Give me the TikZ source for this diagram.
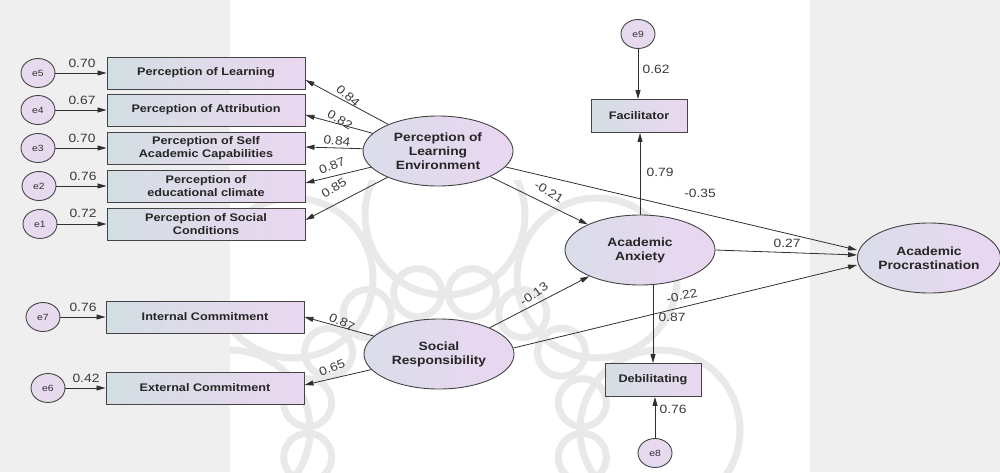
\documentclass[tikz,border=0pt]{standalone}
\usepackage{fontspec}
\setmainfont{Liberation Sans}
\newfontfamily\lbl[FakeStretch=1.15]{Liberation Sans}
\usetikzlibrary{arrows.meta,shapes.geometric,calc}
\definecolor{lineC}{HTML}{303030}
\definecolor{edgeC}{HTML}{444444}
\definecolor{boxL}{HTML}{D3DEE3}
\definecolor{boxR}{HTML}{EAD7F0}
\definecolor{ellL}{HTML}{DADDEA}
\definecolor{ellR}{HTML}{EAD6F1}
\definecolor{errC}{HTML}{E7DAEF}
\definecolor{panel}{HTML}{EFEFEF}
\definecolor{numC}{HTML}{3A3A3A}
\definecolor{wmark}{HTML}{E9E9E9}
\begin{document}
\begin{tikzpicture}[x=1pt,y=-1pt,
  box/.style={draw=edgeC, line width=0.9pt, left color=boxL, right color=boxR,
    minimum width=198pt, minimum height=32pt, inner sep=0pt, align=center,
    font=\lbl\bfseries\fontsize{11}{13}\selectfont, text=black!85},
  sbox/.style={box, minimum width=96pt, minimum height=33pt},
  lat/.style={ellipse, draw=edgeC, line width=0.9pt, left color=ellL, right color=ellR,
    minimum width=150pt, minimum height=70pt, inner sep=0pt, align=center,
    font=\lbl\bfseries\fontsize{12}{14}\selectfont, text=black!85},
  err/.style={ellipse, draw=edgeC, line width=0.9pt, fill=errC, minimum width=34pt,
    minimum height=29pt, inner sep=0pt, font=\lbl\fontsize{9}{10}\selectfont, text=black!80},
  arr/.style={draw=lineC, line width=0.8pt, -{Triangle[length=9pt,width=5pt]}},
  num/.style={font=\lbl\fontsize{12}{12}\selectfont, text=numC, inner sep=0pt},
  orn/.style={draw=wmark, line width=7pt}
]
\useasboundingbox (0,0) rectangle (1000,472);
\fill[panel] (0,0) rectangle (230,472);
\fill[panel] (810,0) rectangle (1000,472);

% faint ornamental watermark
\begin{scope}
\clip (230,180) rectangle (810,472);
\coordinate (wc) at (445,430);
\foreach \a in {11.25,33.75,...,348.75}
  \draw[orn] ($(wc)+(\a:140)$) circle[radius=24];
\foreach \a in {0,45,...,315}
  \draw[orn] ($(wc)+(\a:215)$) circle[radius=80];
\end{scope}

% measurement boxes
\node[box] (b1) at (206,73) {Perception of Learning};
\node[box] (b2) at (206,110) {Perception of Attribution};
\node[box] (b3) at (206,148) {Perception of Self\\Academic Capabilities};
\node[box] (b4) at (206,186) {Perception of\\educational climate};
\node[box] (b5) at (206,224) {Perception of Social\\Conditions};
\node[box] (ic) at (205,317) {Internal Commitment};
\node[box] (ec) at (205,388) {External Commitment};

% error terms
\node[err] (e5) at (38,73) {e5};
\node[err] (e4) at (38,110) {e4};
\node[err] (e3) at (38,148) {e3};
\node[err] (e2) at (39,186) {e2};
\node[err] (e1) at (40,224) {e1};
\node[err] (e7) at (43,317) {e7};
\node[err] (e6) at (48,388) {e6};
\node[err] (e9) at (638,34) {e9};
\node[err] (e8) at (655,453) {e8};

% latent variables
\node[lat] (ple) at (438,151) {Perception of\\Learning\\Environment};
\node[lat] (aa) at (640,250) {Academic\\Anxiety};
\node[lat, minimum width=142pt] (ap) at (929,258) {Academic\\Procrastination};
\node[lat] (sr) at (439,354) {Social\\Responsibility};

\node[sbox] (fac) at (639,116) {Facilitator};
\node[sbox] (deb) at (653,380) {Debilitating};

% error arrows
\draw[arr] (e5) -- (b1);
\draw[arr] (e4) -- (b2);
\draw[arr] (e3) -- (b3);
\draw[arr] (e2) -- (b4);
\draw[arr] (e1) -- (b5);
\draw[arr] (e7) -- (ic);
\draw[arr] (e6) -- (ec);
\draw[arr] (e9) -- (e9 |- fac.north);
\draw[arr] (e8) -- (e8 |- deb.south);

\node[num] (n1) at (82,63) {0.70};
\node[num] (n2) at (82,100) {0.67};
\node[num] (n3) at (82,138) {0.70};
\node[num] (n4) at (83,176) {0.76};
\node[num] (n5) at (83,213) {0.72};
\node[num] (n6) at (83,307) {0.76};
\node[num] (n7) at (86,378) {0.42};
\node[num] (n8) at (656,69) {0.62};
\node[num] (n9) at (673,409) {0.76};

% loadings
\draw[arr] (ple) -- ($(b1.east)+(0,7)$);
\draw[arr] (ple) -- ($(b2.east)+(0,5)$);
\draw[arr] (ple) -- ($(b3.east)+(0,-1)$);
\draw[arr] (ple) -- ($(b4.east)+(0,-3)$);
\draw[arr] (ple) -- ($(b5.east)+(0,-4)$);
\draw[arr] (sr) -- (ic.east);
\draw[arr] (sr) -- ($(ec.east)+(0,-3)$);

\node[num, rotate=-42] (l1) at (348,96) {0.84};
\node[num, rotate=-30] (l2) at (340,120) {0.82};
\node[num, rotate=-8] (l3) at (337,141) {0.84};
\node[num, rotate=22] (l4) at (332,166) {0.87};
\node[num, rotate=33] (l5) at (334,188) {0.85};
\node[num, rotate=-25] (l6) at (342,322) {0.87};
\node[num, rotate=22] (l7) at (332,368) {0.65};

% structural paths
\draw[arr] (ple) -- (aa);
\draw[arr] (ple) -- ($(ap.west)+(0,-8)$);
\draw[arr] (aa.north) -- (aa.north |- fac.south);
\draw[arr] (aa.east) -- ($(ap.west)+(0,-3)$);
\draw[arr] (deb.north |- aa.south) -- (deb.north);
\draw[arr] (sr) -- (aa);
\draw[arr] ($(sr.east)+(-1,-6)$) -- ($(ap.west)+(0,7)$);

\node[num, rotate=-32] (s1) at (549,192) {-0.21};
\node[num] (s2) at (700,193) {-0.35};
\node[num] (s3) at (660,172) {0.79};
\node[num] (s4) at (787,243) {0.27};
\node[num, rotate=12] (s5) at (682,296) {-0.22};
\node[num] (s6) at (672,317) {0.87};
\node[num, rotate=35] (s7) at (534,294) {-0.13};
\end{tikzpicture}
\end{document}
